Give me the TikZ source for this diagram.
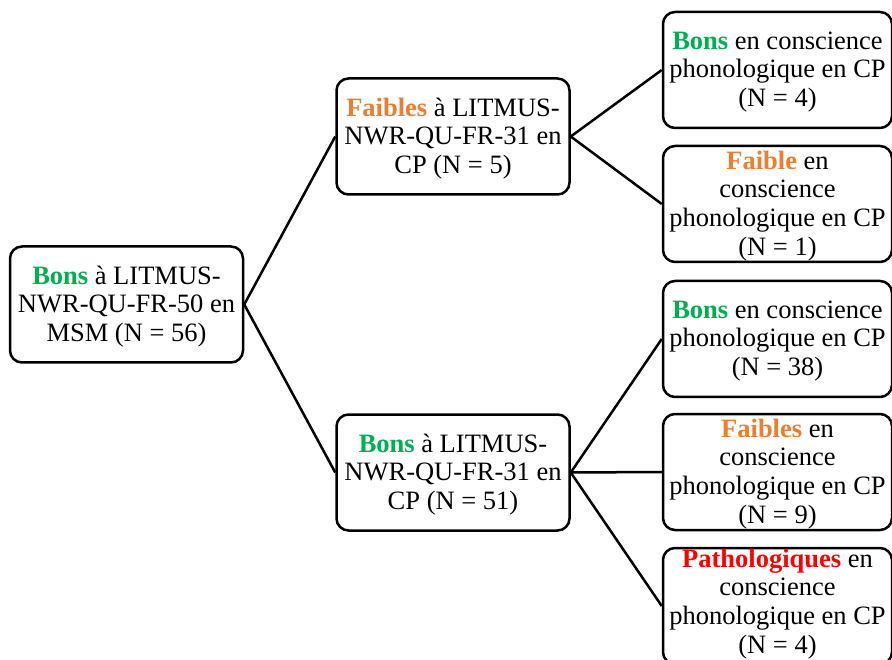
\documentclass[tikz,border=0pt]{standalone}
\usepackage{fontspec}
\setmainfont{Liberation Serif}
\definecolor{goodgreen}{HTML}{00B050}
\definecolor{weakorange}{HTML}{ED7D31}
\definecolor{pathred}{HTML}{FF0000}
\begin{document}
\begin{tikzpicture}[x=1pt,y=-1pt,
  box/.style={draw=black, line width=2.5pt, rounded corners=12pt, fill=white, inner sep=0pt},
  midbox/.style={box, minimum width=233pt, minimum height=116pt},
  leafbox/.style={box, minimum width=229pt, minimum height=116pt},
  txt/.style={align=center, inner sep=0pt, font=\fontsize{26.5}{28.8}\selectfont, yshift=-2pt},
  link/.style={draw=black, line width=2.5pt}]
\useasboundingbox (0,0) rectangle (892,660);
\clip (0,0) rectangle (892,660);
% boxes
\node[midbox] (root) at (126.5,304.5) {};
\node[midbox] (weak) at (453,136.5) {};
\node[midbox] (good) at (453,472.5) {};
\node[leafbox] (l1) at (777.5,70) {};
\node[leafbox] (l2) at (777.5,204) {};
\node[leafbox] (l3) at (777.5,339) {};
\node[leafbox] (l4) at (777.5,472) {};
\node[leafbox] (l5) at (777.5,606) {};
% connectors
\draw[link] (root.east) -- (weak.west);
\draw[link] (root.east) -- (good.west);
\draw[link] (weak.east) -- (l1.west);
\draw[link] (weak.east) -- (l2.west);
\draw[link] (good.east) -- (l3.west);
\draw[link] (good.east) -- (l4.west);
\draw[link] (good.east) -- (l5.west);
% texts
\node[txt] (troot) at (root) {\textcolor{goodgreen}{\textbf{Bons}} à LITMUS-\\NWR-QU-FR-50 en\\MSM (N = 56)};
\node[txt] (tweak) at (weak) {\textcolor{weakorange}{\textbf{Faibles}} à LITMUS-\\NWR-QU-FR-31 en\\CP (N = 5)};
\node[txt] (tgood) at (good) {\textcolor{goodgreen}{\textbf{Bons}} à LITMUS-\\NWR-QU-FR-31 en\\CP (N = 51)};
\node[txt] (tl1) at (l1) {\textcolor{goodgreen}{\textbf{Bons}} en conscience\\phonologique en CP\\(N = 4)};
\node[txt] (tl2) at (l2) {\textcolor{weakorange}{\textbf{Faible}} en\\conscience\\phonologique en CP\\(N = 1)};
\node[txt] (tl3) at (l3) {\textcolor{goodgreen}{\textbf{Bons}} en conscience\\phonologique en CP\\(N = 38)};
\node[txt] (tl4) at (l4) {\textcolor{weakorange}{\textbf{Faibles}} en\\conscience\\phonologique en CP\\(N = 9)};
\node[txt, yshift=4pt] (tl5) at (l5) {\textcolor{pathred}{\textbf{Pathologiques}} en\\conscience\\phonologique en CP\\(N = 4)};
\end{tikzpicture}
\end{document}
